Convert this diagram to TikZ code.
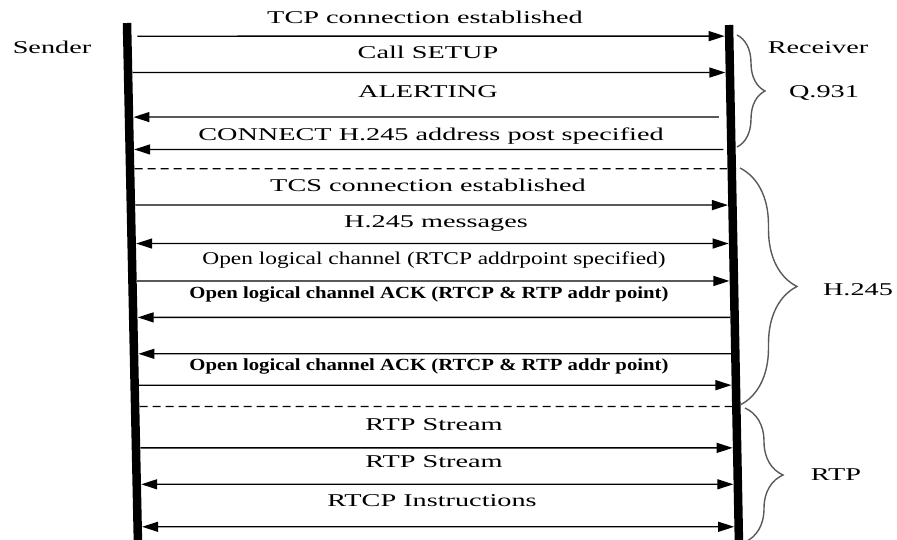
\documentclass[tikz,border=0pt]{standalone}
\usepackage{fontspec}
\setmainfont{Liberation Serif}[FakeStretch=1.57]
\newfontfamily\condfont{Liberation Serif}[FakeStretch=1.3]
\newfontfamily\condbold{Liberation Serif}[FakeStretch=1.22]
\usetikzlibrary{arrows.meta,calc,decorations.pathreplacing}

% points where a message line at height #2 meets the two lifelines
\newcommand\lanes[2]{%
  \coordinate (#1s) at ($(sTop)!{(#2-23)/516}!(sBot)$);
  \coordinate (#1r) at ($(rTop)!{(#2-25)/514}!(rBot)$);}

\begin{document}
\begin{tikzpicture}[x=1pt,y=-1pt,
  lbl/.style={font=\fontsize{18}{20}\selectfont, inner sep=0pt},
  small/.style={font=\condfont\fontsize{18}{20}\selectfont, inner sep=0pt},
  smallb/.style={font=\condbold\bfseries\fontsize{17}{20}\selectfont, inner sep=0pt},
  lifeline/.style={line width=8.5pt},
  tip/.tip={Triangle[length=16pt,width=10pt]},
  msgline/.style={line width=1.3pt, shorten >=4.5pt, shorten <=4.5pt},
  fwd/.style={msgline, -tip},
  bwd/.style={msgline, -tip},
  both/.style={msgline, tip-tip},
  sep/.style={line width=1.2pt, dash pattern=on 8pt off 5pt, shorten >=4.5pt, shorten <=4.5pt},
  brc/.style={decorate, line width=1.4pt, draw=black!65},
]
\useasboundingbox (0,0) rectangle (897,539);

% lifelines
\coordinate (sTop) at (127,23);
\coordinate (sBot) at (138,545);
\coordinate (rTop) at (729,25);
\coordinate (rBot) at (739,545);
\draw[lifeline] (sTop) -- (sBot);
\draw[lifeline] (rTop) -- (rBot);

% end labels
\node[lbl] (sender) at (52,47) {Sender};
\node[lbl] (receiver) at (818,48) {Receiver};

% Q.931 phase
\lanes{a}{36} \lanes{b}{72} \lanes{c}{116} \lanes{d}{148} \lanes{e}{167}
\node[lbl] (l1) at (425,17) {TCP connection established};
\draw[fwd, shorten <=10pt] (as) -- (ar);
\node[lbl] (l2) at (428,52) {Call SETUP};
\draw[fwd] (bs) -- (br);
\node[lbl] (l3) at (428,92) {ALERTING};
\draw[bwd, shorten <=12pt] (cr) -- (cs);
\node[lbl] (l4) at (431,136) {CONNECT H.245 address post specified};
\draw[bwd, shorten <=8pt] (dr) -- (ds);
\draw[sep] (es) -- (er);

% H.245 phase
\lanes{f}{203} \lanes{g}{241} \lanes{h}{278} \lanes{i}{314} \lanes{j}{350} \lanes{k}{381} \lanes{m}{402}
\node[lbl] (l5) at (428,185) {TCS connection established};
\draw[fwd] (fs) -- (fr);
\node[lbl] (l6) at (436,223) {H.245 messages};
\draw[both] (gs) -- (gr);
\node[small] (l7) at (434,260) {Open logical channel (RTCP addrpoint specified)};
\draw[fwd] (hs) -- (hr);
\node[smallb] (l8) at (429,294) {Open logical channel ACK (RTCP \& RTP addr point)};
\draw[bwd] (ir) -- (is);
\draw[bwd] (jr) -- (js);
\node[smallb] (l9) at (429,366) {Open logical channel ACK (RTCP \& RTP addr point)};
\draw[fwd] (ks) -- (kr);
\draw[sep] (ms) -- (mr);

% RTP phase
\lanes{n}{443} \lanes{o}{479} \lanes{p}{521}
\node[lbl] (l10) at (434,425) {RTP Stream};
\draw[fwd] (ns) -- (nr);
\node[lbl] (l11) at (434,462) {RTP Stream};
\draw[both] (os) -- (or);
\node[lbl] (l12) at (432,501) {RTCP Instructions};
\draw[both] (ps) -- (pr);

% phase braces
\coordinate (q1) at (737,35);  \coordinate (q2) at (737,147);
\coordinate (h1) at (740,168); \coordinate (h2) at (740,405);
\coordinate (t1) at (745,408); \coordinate (t2) at (745,542);
\draw[brc, decoration={brace, amplitude=28pt}] (q1) -- (q2);
\draw[brc, decoration={brace, amplitude=57pt}] (h1) -- (h2);
\draw[brc, decoration={brace, amplitude=38pt}] (t1) -- (t2);
\node[lbl] (q931) at (824,93) {Q.931};
\node[lbl] (h245) at (858,290) {H.245};
\node[lbl] (rtp) at (836,475) {RTP};
\end{tikzpicture}
\end{document}
